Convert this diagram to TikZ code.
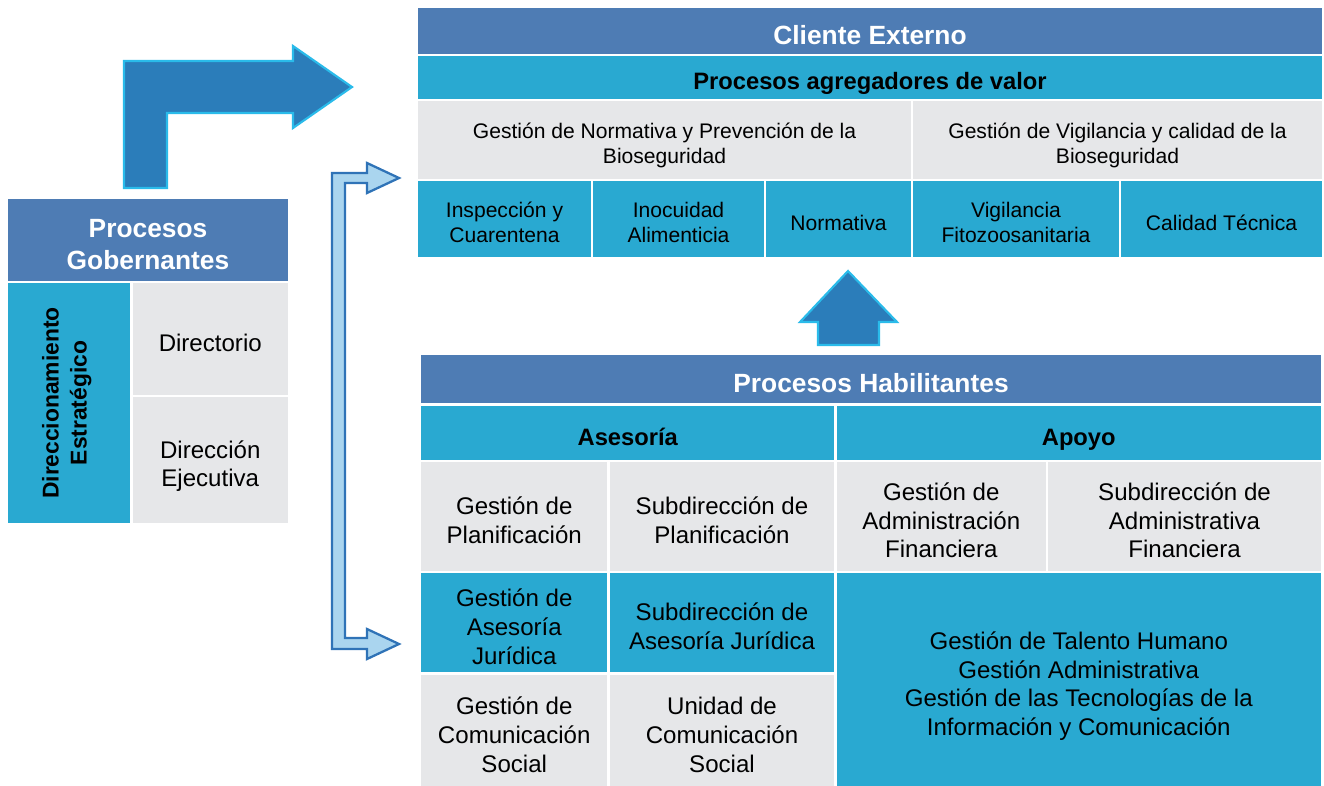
\documentclass[tikz,border=0pt]{standalone}
\usepackage{fontspec}
\setmainfont{Liberation Sans}
\definecolor{hdrblue}{HTML}{4E7CB4}
\definecolor{cellcyan}{HTML}{29A9D1}
\definecolor{cellgray}{HTML}{E6E7E9}
\definecolor{arrowblue}{HTML}{2B7DBA}
\definecolor{arrowedge}{HTML}{2ABBEA}
\definecolor{bracketfill}{HTML}{AAD5EF}
\definecolor{bracketedge}{HTML}{2F73B7}
% cell text: lines spaced by struts, set a little below the middle
\newcommand\celltext[1]{\raisebox{-0.28em}[\height][\depth]{\begin{tabular}{@{}c@{}}#1\end{tabular}}}
\begin{document}
\begin{tikzpicture}[
        x=0.02cm, y=-0.02cm, % one unit = one pixel of the layout
        cell/.style={draw=white, line width=1.6pt, inner sep=2pt, text=black,
            font=\fontsize{13.7}{16.4}\selectfont},
        sz/.style 2 args={minimum width=#1*0.02cm, minimum height=#2*0.02cm},
        hdr/.style={cell, fill=hdrblue, text=white, font=\bfseries\fontsize{15}{18}\selectfont},
        sub/.style={cell, fill=cellcyan, font=\bfseries\fontsize{13.5}{16}\selectfont},
        cyancell/.style={cell, fill=cellcyan},
        greycell/.style={cell, fill=cellgray},
        small/.style={font=\fontsize{12}{14.5}\selectfont},
        blockarrow/.style={fill=arrowblue, draw=arrowedge, line width=1.2pt, line join=miter},
        bracketarrow/.style={fill=bracketfill, draw=bracketedge, line width=1.3pt, line join=miter}
    ]
    \useasboundingbox (0,0) rectangle (1324,785);

    % Procesos Gobernantes
    \node[hdr, sz={282}{84}] (gob) at (148,240) {\celltext{Procesos\\Gobernantes}};
    \node[cyancell, sz={124.5}{242}] (dircell) at (69.25,403) {};
    \node[rotate=90, align=center, font=\bfseries\fontsize{13}{16}\selectfont] (dirtext) at ([xshift=-2.5*0.02cm]dircell.center) {Direccionamiento\\Estratégico};
    \node[greycell, sz={157.5}{114}] (directorio) at (210.25,339) {\celltext{Directorio}};
    \node[greycell, sz={157.5}{128}] (ejecutiva) at (210.25,460) {\celltext{Dirección\\Ejecutiva}};

    % Cliente Externo / agregadores de valor
    \node[hdr, sz={906}{48}] (cliente) at (870,31) {\celltext{Cliente Externo}};
    \node[sub, sz={906}{45}] (agreg) at (870,77.5) {\celltext{Procesos agregadores de valor}};
    \node[greycell, small, sz={495}{80}] (normprev) at (664.5,140) {\celltext{Gestión de Normativa y Prevención de la\\Bioseguridad}};
    \node[greycell, small, sz={411}{80}] (vigcal) at (1117.5,140) {\celltext{Gestión de Vigilancia y calidad de la\\Bioseguridad}};
    \node[cyancell, small, sz={175}{78}] (inspeccion) at (504.5,219) {\celltext{Inspección y\\Cuarentena}};
    \node[cyancell, small, sz={173}{78}] (inocuidad) at (678.5,219) {\celltext{Inocuidad\\Alimenticia}};
    \node[cyancell, small, sz={147}{78}] (normativa) at (838.5,219) {\celltext{Normativa}};
    \node[cyancell, small, sz={208}{78}] (vigilancia) at (1016,219) {\celltext{Vigilancia\\Fitozoosanitaria}};
    \node[cyancell, small, sz={203}{78}] (calidad) at (1221.5,219) {\celltext{Calidad Técnica}};

    % Procesos Habilitantes
    \node[hdr, sz={902}{50.5}] (habil) at (871,379.25) {\celltext{Procesos Habilitantes}};
    \node[sub, sz={415.5}{56.5}] (asesoria) at (627.75,432.75) {\celltext{Asesoría}};
    \node[sub, sz={486.5}{56.5}] (apoyo) at (1078.75,432.75) {\celltext{Apoyo}};
    \node[greycell, sz={188.5}{111}] (gplan) at (514.25,516.5) {\celltext{Gestión de\\Planificación}};
    \node[greycell, sz={227}{111}] (splan) at (722,516.5) {\celltext{Subdirección de\\Planificación}};
    \node[greycell, sz={211.5}{111}] (gadmin) at (941.25,516.5) {\celltext{Gestión de\\Administración\\Financiera}};
    \node[greycell, sz={275}{111}] (sadmin) at (1184.5,516.5) {\celltext{Subdirección de\\Administrativa\\Financiera}};
    \node[cyancell, sz={188.5}{101.5}] (gjur) at (514.25,622.75) {\celltext{Gestión de\\Asesoría\\Jurídica}};
    \node[cyancell, sz={227}{101.5}] (sjur) at (722,622.75) {\celltext{Subdirección de\\Asesoría Jurídica}};
    \node[greycell, sz={188.5}{114.5}] (gcom) at (514.25,730.75) {\celltext{Gestión de\\Comunicación\\Social}};
    \node[greycell, sz={227}{114.5}] (ucom) at (722,730.75) {\celltext{Unidad de\\Comunicación\\Social}};
    \node[cyancell, sz={486.5}{216}] (apoyoall) at (1078.75,680) {\celltext{Gestión de Talento Humano\\Gestión Administrativa\\Gestión de las Tecnologías de la\\Información y Comunicación}};

    % block arrows
    \draw[blockarrow] (124,188) -- (124,61) -- (293,61) -- (293,46) -- (352,87)
        -- (293,128) -- (293,113) -- (167,113) -- (167,188) -- cycle;
    \draw[blockarrow] (848,271) -- (897,322) -- (879,322) -- (879,345)
        -- (818,345) -- (818,322) -- (800,322) -- cycle;
    \draw[bracketarrow] (367,163) -- (399,178) -- (367,193) -- (367,183) -- (345,183)
        -- (345,638) -- (367,638) -- (367,629) -- (399,644) -- (367,659) -- (367,649)
        -- (332,649) -- (332,173) -- (367,173) -- cycle;
\end{tikzpicture}
\end{document}
